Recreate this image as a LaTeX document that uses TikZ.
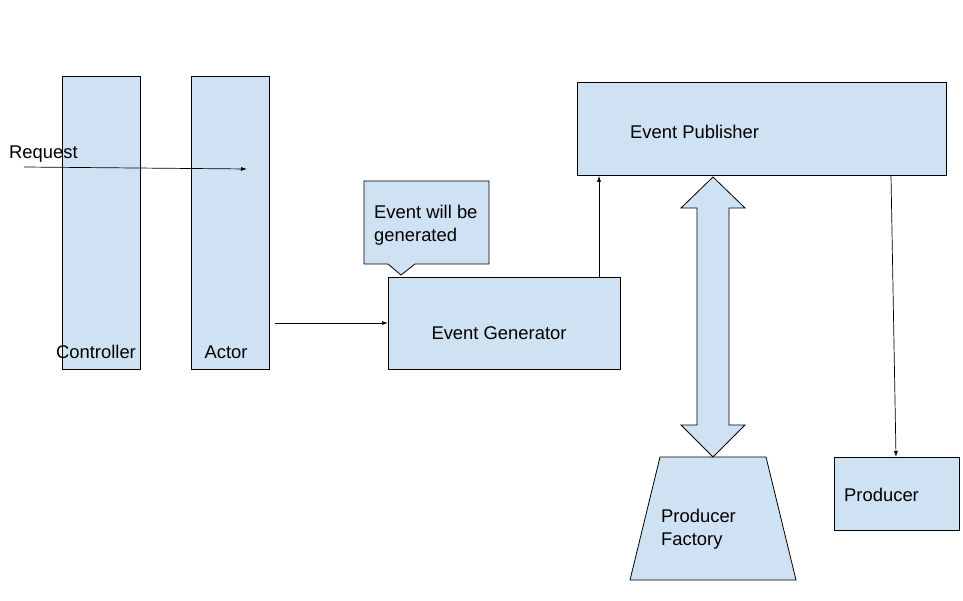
\documentclass[tikz,border=0pt]{standalone}
\usepackage{fontspec}
\setmainfont{Liberation Sans}
\usetikzlibrary{arrows.meta}
\definecolor{box}{RGB}{207, 226, 243}

\begin{document}
\begin{tikzpicture}[x=1pt,y=-1pt,
	blk/.style={draw=black,fill=box,line width=0.8pt},
	txt/.style={inner sep=0pt,font=\fontsize{18.4}{22.5}\selectfont},
	arr/.style={-{Latex[length=6pt,width=4pt]},line width=0.7pt}]
			\useasboundingbox (0,0) rectangle (963,601);
			% les boites
			\node[blk,anchor=north west,minimum width=78,minimum height=293] (controller) at (62,76) {};
			\node[blk,anchor=north west,minimum width=78,minimum height=293] (actor) at (191,76) {};
			\node[blk,anchor=north west,minimum width=232,minimum height=92] (generator) at (388,277) {};
			\node[blk,anchor=north west,minimum width=369,minimum height=93] (publisher) at (577,82) {};
			\node[blk,anchor=north west,minimum width=125,minimum height=73] (producer) at (834,457) {};
			% la bulle
			\draw[blk] (364,181)--(489,181)--(489,264)--(415,264)--(401,275)--(388,264)--(364,264)--cycle;
			% la fabrique
			\draw[blk] (660,457)--(766,457)--(796,580)--(630,580)--cycle;
			% la double fleche
			\draw[blk] (713,177)--(745,208)--(729,208)--(729,425)--(745,425)--(713,457)--(681,425)--(697,425)--(697,208)--(681,208)--cycle;
			% les textes
			\node[txt] (controllerlabel) at (96,352) {Controller};
			\node[txt] (actorlabel) at (226,352) {Actor};
			\node[txt,anchor=west] (requestlabel) at (9,154) {Request};
			\node[txt,anchor=north west,align=left] (bubblelabel) at (374,205) {Event will be\\generated};
			\node[txt] (generatorlabel) at (499,333) {Event Generator};
			\node[txt,anchor=west] (publisherlabel) at (630,132) {Event Publisher};
			\node[txt,anchor=west,align=left] (factorylabel) at (661,529) {Producer\\Factory};
			\node[txt,anchor=west] (producerlabel) at (844,495) {Producer};
			% les fleches
			\coordinate (requeststart) at (24,167);
			\coordinate (requestend) at (247,169);
			\draw[arr] (requeststart)--(requestend);
			\draw[arr] (actor.east |- 0,323) ++(5,0) coordinate (actorout) -- (generator.west |- actorout);
			\draw[arr] (generator.north -| 599,0) -- (publisher.south -| 599,0);
			\draw[arr] (publisher.south -| 891,0) -- (producer.north -| 896,0);
			\end{tikzpicture}
\end{document}
